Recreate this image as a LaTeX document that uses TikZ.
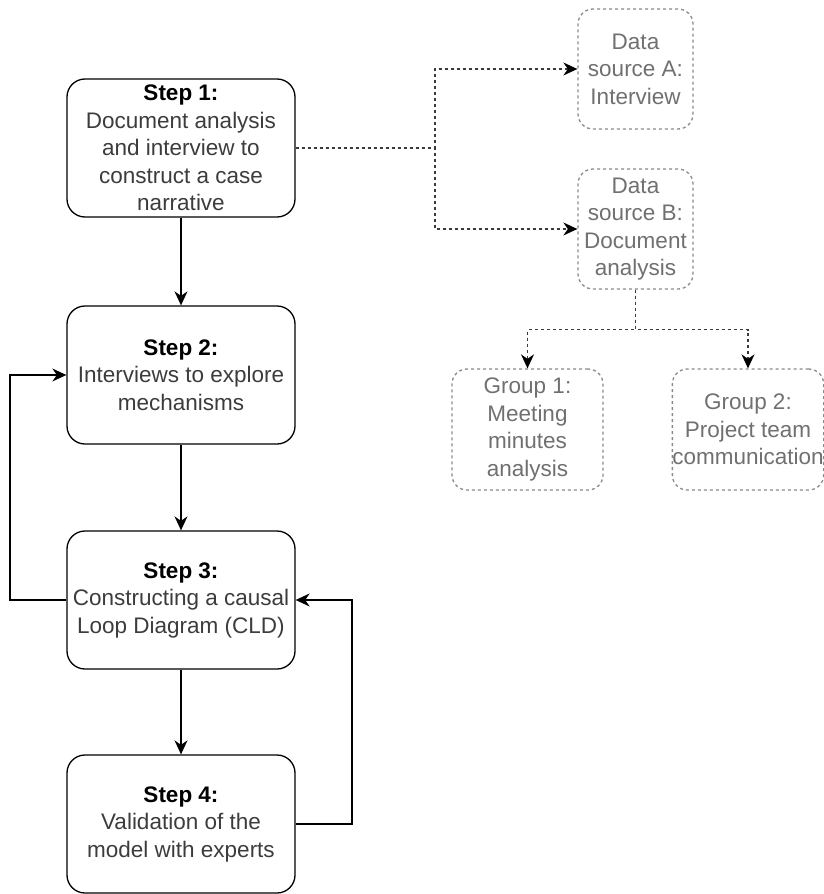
\documentclass[tikz,border=0pt]{standalone}
\usepackage{fontspec}
\setmainfont{Liberation Sans}
\usetikzlibrary{arrows.meta,calc}
\definecolor{boxgray}{HTML}{8A8A8A}
\definecolor{txtgray}{HTML}{707070}
\definecolor{bodytxt}{HTML}{3C3C3C}
\definecolor{lnk}{HTML}{3A3A3A}
\newcommand{\steptitle}[1]{{\color{black}\textbf{#1}}}
\begin{document}
\begin{tikzpicture}[x=1pt,y=-1pt,
  every node/.style={font=\fontsize{22.5}{27.5}\selectfont, align=center, inner sep=0pt},
  stepbox/.style={draw=black, line width=1.3pt, rounded corners=18pt, text=bodytxt,
    minimum width=228pt, minimum height=138pt},
  srcbox/.style={draw=boxgray, line width=1.3pt, dash pattern=on 3pt off 3pt,
    rounded corners=15pt, text=txtgray},
  arr/.style={line width=1.3pt, -{Stealth[length=14pt,width=13pt,inset=4.5pt]}},
  dotarr/.style={draw=lnk, line width=1.3pt, dash pattern=on 3pt off 3pt,
    -{Stealth[length=14pt,width=13pt,inset=4.5pt,color=black]}}]
\useasboundingbox (0,0) rectangle (824,894);

% process steps
\node[stepbox] (s1) at (181,148) {\steptitle{Step 1:}\\Document analysis\\and interview to\\construct a case\\narrative};
\node[stepbox] (s2) at (181,375) {\steptitle{Step 2:}\\Interviews to explore\\mechanisms};
\node[stepbox] (s3) at (181,600) {\steptitle{Step 3:}\\Constructing a causal\\Loop Diagram (CLD)};
\node[stepbox] (s4) at (181,824) {\steptitle{Step 4:}\\Validation of the\\model with experts};

% data sources
\node[srcbox, minimum width=115pt, minimum height=120pt] (da) at (635.5,69) {Data\\source A:\\Interview};
\node[srcbox, minimum width=115pt, minimum height=120pt] (db) at (635.5,229) {Data\\source B:\\Document\\analysis};
\node[srcbox, minimum width=151pt, minimum height=121pt] (g1) at (527.5,429.5) {Group 1:\\Meeting\\minutes\\analysis};
\node[srcbox, minimum width=150pt, minimum height=121pt] (g2) at (748,429.5) {Group 2:\\Project team\\communication};

% routing points
\coordinate (lft) at (10,0);
\coordinate (rgt) at (352,0);
\coordinate (jn) at (435,0);

% main flow
\draw[arr] (s1) -- (s2);
\draw[arr] (s2) -- (s3);
\draw[arr] (s3) -- (s4);
\draw[arr] (s3.west) -- (s3.west -| lft) |- (s2.west);
\draw[arr] (s4.east) -- (s4.east -| rgt) |- (s3.east);

% data links
\draw[dotarr] (s1.east) -- (s1.east -| jn) |- (da.west);
\draw[dotarr] (s1.east) -- (s1.east -| jn) |- (db.west);
\draw[dotarr] (db.south) -- ++(0,40) -| (g1.north);
\draw[dotarr] (db.south) -- ++(0,40) -| (g2.north);
\end{tikzpicture}
\end{document}
